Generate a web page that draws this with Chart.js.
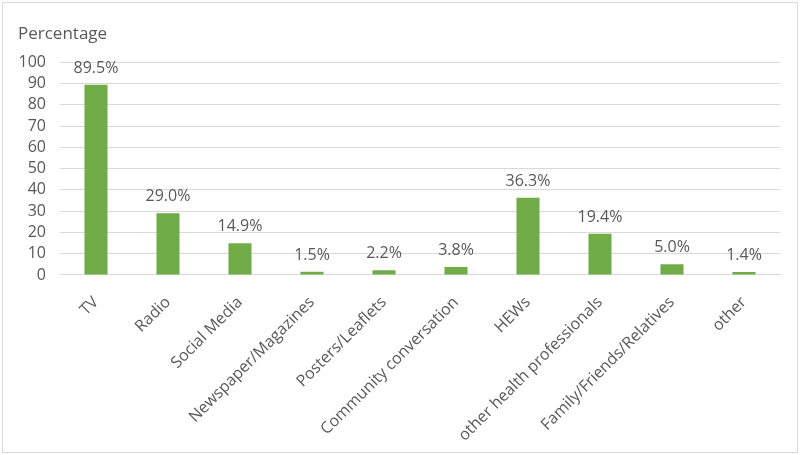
<!DOCTYPE html>
<html>
<head>
    <title>Percentage</title>
    <meta charset="UTF-8">
    <script src="https://cdn.jsdelivr.net/npm/chart.js@4.4.1/dist/chart.umd.min.js"></script>
    <style>
        body { margin: 0; background: #fff; }
        #wrap { width: 800px; height: 455px; }
    </style>
</head>
<body>
    <div id="wrap"><canvas id="myChart"></canvas></div>

    <script>
        var categories = ['TV', 'Radio', 'Social Media', 'Newspaper/Magazines', 'Posters/Leaflets',
            'Community conversation', 'HEWs', 'other health professionals', 'Family/Friends/Relatives', 'other'];
        var percentages = [89.5, 29.0, 14.9, 1.5, 2.2, 3.8, 36.3, 19.4, 5.0, 1.4];
        var yTicks = [0, 10, 20, 30, 40, 50, 60, 70, 80, 90, 100];

        var textColor = '#595959';
        var fontFamily = "'Open Sans', 'Liberation Sans', sans-serif";

        // labels above bars + outer frame
        var barLabels = {
            id: 'barLabels',
            afterDatasetsDraw: function (chart) {
                var ctx = chart.ctx;
                var meta = chart.getDatasetMeta(0);
                ctx.save();
                ctx.fillStyle = textColor;
                ctx.font = '16px ' + fontFamily;
                ctx.textAlign = 'center';
                ctx.textBaseline = 'alphabetic';
                meta.data.forEach(function (bar, i) {
                    ctx.fillText(percentages[i].toFixed(1) + '%', bar.x, bar.y - 12);
                });
                ctx.restore();
            },
            afterDraw: function (chart) {
                var ctx = chart.ctx;
                ctx.save();
                ctx.strokeStyle = '#d9d9d9';
                ctx.lineWidth = 1;
                ctx.strokeRect(2.5, 2.5, 795, 450);
                ctx.restore();
            }
        };

        var ctx = document.getElementById('myChart');
        var myChart = new Chart(ctx, {
            type: 'bar',
            data: {
                labels: categories,
                datasets: [{
                    label: 'Percentage',
                    data: percentages,
                    backgroundColor: '#70ad47',
                    barPercentage: 0.32,
                    categoryPercentage: 1.0
                }]
            },
            options: {
                responsive: true,
                maintainAspectRatio: false,
                animation: false,
                layout: { padding: { left: 18, right: 20, top: 14, bottom: 0 } },
                plugins: {
                    legend: { display: false },
                    tooltip: { enabled: false },
                    title: {
                        display: true,
                        text: 'Percentage',
                        align: 'start',
                        color: textColor,
                        font: { family: fontFamily, size: 17, weight: 'normal' },
                        padding: { top: 10, bottom: 18 }
                    }
                },
                scales: {
                    x: {
                        grid: { display: false },
                        border: { color: '#d9d9d9' },
                        afterFit: function (axis) {
                            // rotated labels fit inside the categories, no extra side room
                            axis.paddingLeft = 0;
                            axis.paddingRight = 0;
                        },
                        ticks: {
                            color: textColor,
                            font: { family: fontFamily, size: 16 },
                            maxRotation: 45,
                            minRotation: 45,
                            padding: 10,
                            autoSkip: false
                        }
                    },
                    y: {
                        min: 0,
                        max: 100,
                        afterBuildTicks: function (axis) {
                            axis.ticks = yTicks.map(function (v) { return { value: v }; });
                        },
                        afterFit: function (axis) {
                            axis.width = 42;
                        },
                        grid: { color: '#d9d9d9', drawTicks: false },
                        border: { display: false },
                        ticks: {
                            color: textColor,
                            font: { family: fontFamily, size: 16 },
                            padding: 14,
                            autoSkip: false
                        }
                    }
                }
            },
            plugins: [barLabels]
        });
    </script>
</body>
</html>
